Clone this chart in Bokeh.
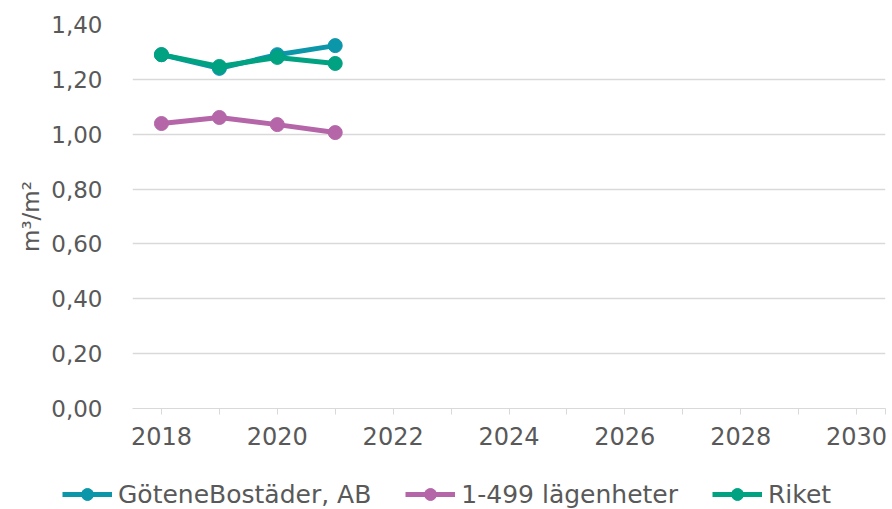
from bokeh.plotting import figure
from bokeh.models import FixedTicker, Legend, LegendItem, CustomJSTickFormatter, Range1d
from bokeh.layouts import column
from bokeh.embed import file_html
from bokeh.resources import INLINE

years = [2018, 2019, 2020, 2021]
gotene = [1.29, 1.24, 1.29, 1.323]
lgh_1_499 = [1.039, 1.061, 1.035, 1.006]
riket = [1.29, 1.247, 1.28, 1.258]

series_names = ["GöteneBostäder, AB", "1-499 lägenheter", "Riket"]
colors = ["#0b96a9", "#b466a8", "#00a282"]

y_ticks = [0.0, 0.2, 0.4, 0.6, 0.8, 1.0, 1.2, 1.4]
x_ticks = [2018, 2020, 2022, 2024, 2026, 2028, 2030]
x_minor = [2019, 2021, 2023, 2025, 2027, 2029, 2030.5]

FONT = "DejaVu Sans"
TXT = "#595959"
GRID = "#d9d9d9"

p = figure(width=892, height=466, output_backend="svg", toolbar_location=None,
           x_range=Range1d(2017.5, 2030.5), y_range=Range1d(0, 1.4))
p.frame_align = False
p.min_border_left = 132
p.min_border_right = 7
p.min_border_top = 24
p.min_border_bottom = 58
p.outline_line_color = None

for vals, c in zip([gotene, lgh_1_499, riket], colors):
    p.line(years, vals, line_color=c, line_width=5)
    p.scatter(years, vals, size=14, fill_color=c, line_color=c)

# axes
p.xaxis.ticker = FixedTicker(ticks=x_ticks, minor_ticks=x_minor)
p.xaxis.axis_line_color = GRID
p.xaxis.major_tick_line_color = GRID
p.xaxis.minor_tick_line_color = GRID
p.xaxis.major_tick_out = 6
p.xaxis.major_tick_in = 0
p.xaxis.minor_tick_out = 6
p.xaxis.minor_tick_in = 0
p.xaxis.major_label_standoff = 12
p.xaxis.major_label_text_font = FONT
p.xaxis.major_label_text_font_size = "24px"
p.xaxis.major_label_text_color = TXT

p.yaxis.ticker = FixedTicker(ticks=y_ticks)
p.yaxis.formatter = CustomJSTickFormatter(code="return tick.toFixed(2).replace('.', ',');")
p.yaxis.axis_line_color = None
p.yaxis.major_tick_line_color = None
p.yaxis.minor_tick_line_color = None
p.yaxis.major_label_standoff = 24
p.yaxis.major_label_text_font = FONT
p.yaxis.major_label_text_font_size = "23px"
p.yaxis.major_label_text_color = TXT
p.yaxis.axis_label = "m³/m²"
p.yaxis.axis_label_text_font = FONT
p.yaxis.axis_label_text_font_size = "23px"
p.yaxis.axis_label_text_font_style = "normal"
p.yaxis.axis_label_text_color = TXT
p.yaxis.axis_label_standoff = 4

p.xgrid.grid_line_color = None
p.ygrid.grid_line_color = GRID
p.ygrid.grid_line_width = 1.5

# legend in its own strip below the chart
lf = figure(width=892, height=43, output_backend="svg", toolbar_location=None,
            x_range=Range1d(0, 1), y_range=Range1d(0, 1),
            x_axis_type=None, y_axis_type=None, min_border=0)
lf.frame_align = False
lf.outline_line_color = None
lf.xgrid.grid_line_color = None
lf.ygrid.grid_line_color = None
items = []
for name, vals, c in zip(series_names, [gotene, lgh_1_499, riket], colors):
    l = lf.line(years, vals, line_color=c, line_width=5)
    s = lf.scatter(years, vals, size=14, fill_color=c, line_color=c)
    items.append(LegendItem(label=name, renderers=[l, s]))

legend = Legend(items=items, orientation="horizontal", location=(62, 0))
legend.label_text_font = FONT
legend.label_text_font_size = "25px"
legend.label_text_color = TXT
legend.glyph_width = 50
legend.glyph_height = 30
legend.label_standoff = 6
legend.spacing = 34
legend.padding = 0
legend.margin = 0
legend.border_line_color = None
legend.background_fill_alpha = 0
lf.add_layout(legend, "center")

layout = column(p, lf, spacing=0)
open("out.html", "w").write(file_html(layout, INLINE))
